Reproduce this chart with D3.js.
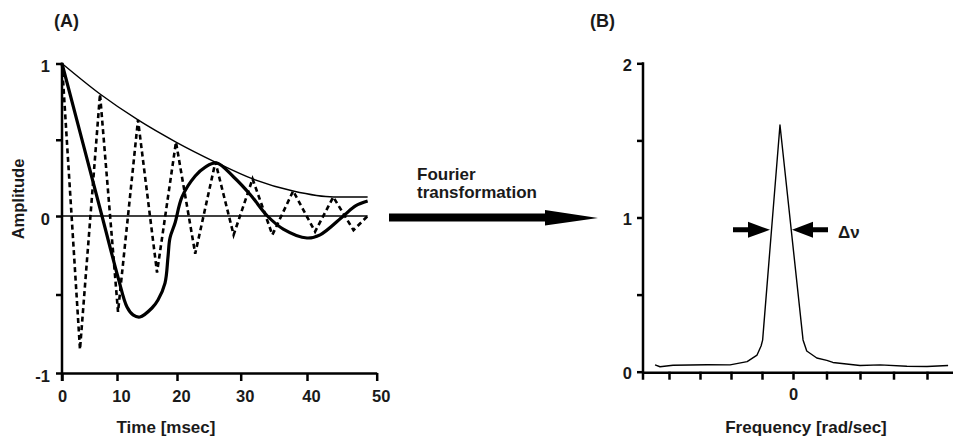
<!DOCTYPE html>
<html><head><meta charset="utf-8">
<script src="https://cdn.jsdelivr.net/npm/d3@7"></script>
<style>
html,body{margin:0;padding:0;background:#fff;}
svg{display:block;}
text{font-family:"Liberation Sans",Arial,sans-serif;font-weight:bold;fill:#1a1a1a;}
</style></head><body>
<svg id="chart" width="953" height="436"></svg>
<script>
// ---- Panel A data ----
const timeTicks = [0, 10, 20, 30, 40, 50];
const ampTicks = [-1, -0.5, 0, 0.5, 1];
const envT = [0, 6.91, 13.5, 19.83, 26.0, 31.8, 37.9, 43.8, 48.7];
const envV = [1.0, 0.80, 0.63, 0.485, 0.354, 0.243, 0.164, 0.125, 0.125];
const oscT = [0, 3.27, 6.91, 10.17, 13.5, 16.67, 19.83, 22.86, 26.03, 28.89, 31.79, 34.78, 37.91, 41.16, 43.77, 46.67, 48.7];
const oscV = [1.0, -0.85, 0.80, -0.61, 0.63, -0.36, 0.485, -0.24, 0.354, -0.12, 0.243, -0.12, 0.164, -0.10, 0.125, -0.09, 0.0];
const sigT = [0, 7.27, 10.17, 11.67, 12.67, 13.83, 15.83, 16.83, 18.0, 18.5, 18.83, 19.67, 20.79, 22.86, 24.44, 26.19, 28.89, 31.49, 34.03, 36.42, 40.0, 41.88, 45.22, 46.96, 48.7];
const sigV = [1.0, 0.0, -0.39, -0.58, -0.63, -0.643, -0.586, -0.535, -0.427, -0.26, -0.14, -0.045, 0.125, 0.262, 0.321, 0.348, 0.256, 0.138, 0.0, -0.083, -0.14, -0.12, 0.0, 0.066, 0.098];
const zeroT = [0, 48.7];
const zeroV = [0, 0];

// ---- Panel B data ----
const freqTicks = [-4, -3, -2, -1, 0, 1, 2, 3, 4];
const specTicks = [0, 0.5, 1, 1.5, 2];
const specF = [-4.45, -4.29, -3.87, -2.77, -2.03, -1.48, -1.16, -1.03, -0.98, -0.42, 0.30, 0.41, 0.71, 1.01, 1.19, 2.0, 2.6, 3.4, 4.0, 4.63];
const specV = [0.044, 0.032, 0.042, 0.045, 0.044, 0.065, 0.108, 0.167, 0.205, 1.60, 0.206, 0.134, 0.089, 0.073, 0.060, 0.040, 0.044, 0.035, 0.034, 0.040];
const halfLevel = 0.92;

const svg = d3.select("#chart");
svg.append("rect").attr("width", 953).attr("height", 436).attr("fill", "#fff");

// ===== Panel A =====
const xA = d3.scaleLinear().domain(timeTicks).range([62, 117, 177, 240.7, 307, 376.7]);
const yA = d3.scaleLinear().domain([-1, 0, 1]).range([373, 216, 63.5]);

const gYA = svg.append("g").attr("transform", `translate(${xA(0)},0)`)
  .call(d3.axisLeft(yA).tickValues(ampTicks).tickSize(6).tickSizeOuter(0).tickPadding(6)
    .tickFormat(d => Number.isInteger(d) ? String(d) : ""));
gYA.select(".domain").remove();
gYA.selectAll(".tick line").attr("stroke", "#000").attr("stroke-width", 2.5);
gYA.selectAll(".tick text").attr("font-size", 16.5).attr("y", 3);

svg.append("line").attr("x1", xA(0)).attr("x2", xA(0)).attr("y1", yA(1) - 1).attr("y2", yA(-1) + 8)
  .attr("stroke", "#000").attr("stroke-width", 2.5);

const gXA = svg.append("g").attr("transform", `translate(0,${yA(-1)})`)
  .call(d3.axisBottom(xA).tickValues(timeTicks).tickSize(8).tickSizeOuter(0).tickPadding(9));
gXA.select(".domain").attr("stroke", "#000").attr("stroke-width", 2.5);
gXA.selectAll(".tick line").attr("stroke", "#000").attr("stroke-width", 2.5);
gXA.selectAll(".tick text").attr("font-size", 16.5).attr("dx", d => d === 0 ? 0 : 4);

const lineA = d3.line().x(d => xA(d[0])).y(d => yA(d[1]));

svg.append("path").datum(d3.zip(zeroT, zeroV)).attr("d", lineA)
  .attr("fill", "none").attr("stroke", "#000").attr("stroke-width", 1.3);
svg.append("path").datum(d3.zip(envT, envV)).attr("d", lineA.curve(d3.curveMonotoneX))
  .attr("fill", "none").attr("stroke", "#000").attr("stroke-width", 1.4);
svg.append("path").datum(d3.zip(oscT, oscV)).attr("d", lineA.curve(d3.curveLinear))
  .attr("fill", "none").attr("stroke", "#000").attr("stroke-width", 2.6).attr("stroke-dasharray", "5,3.5");
svg.append("path").datum(d3.zip(sigT, sigV)).attr("d", lineA.curve(d3.curveCatmullRom.alpha(0.5)))
  .attr("fill", "none").attr("stroke", "#000").attr("stroke-width", 3.2).attr("stroke-linejoin", "round");

svg.append("text").attr("x", 54).attr("y", 27).attr("font-size", 18).text("(A)");
svg.append("text").attr("transform", "translate(24,199) rotate(-90)").attr("text-anchor", "middle")
  .attr("font-size", 16.5).text("Amplitude");
svg.append("text").attr("x", 166).attr("y", 433).attr("text-anchor", "middle").attr("font-size", 17).text("Time [msec]");

// ===== Fourier arrow =====
svg.append("path").attr("d", "M389,213.5H545V210L598,218L545,225.5V221.5H389Z").attr("fill", "#000");
svg.append("text").attr("x", 417).attr("y", 180).attr("font-size", 17).text("Fourier");
svg.append("text").attr("x", 417).attr("y", 198).attr("font-size", 17).text("transformation");

// ===== Panel B =====
const xB = d3.scaleLinear().domain([-4, 0, 4]).range([669, 793, 927]);
const yB = d3.scaleLinear().domain([0, 2]).range([371.7, 63.3]);
const axX = 643;

const gYB = svg.append("g").attr("transform", `translate(${axX},0)`)
  .call(d3.axisLeft(yB).tickValues(specTicks).tickSize(6).tickSizeOuter(0).tickPadding(5)
    .tickFormat(d => Number.isInteger(d) ? String(d) : ""));
gYB.select(".domain").remove();
gYB.selectAll(".tick line").attr("stroke", "#000").attr("stroke-width", 2.5);
gYB.selectAll(".tick text").attr("font-size", 16.5).attr("y", 2);
svg.append("line").attr("x1", axX).attr("x2", axX).attr("y1", yB(2) - 1).attr("y2", yB(0) + 8)
  .attr("stroke", "#000").attr("stroke-width", 2.5);

const gXB = svg.append("g").attr("transform", `translate(0,${yB(0)})`)
  .call(d3.axisBottom(xB).tickValues(freqTicks).tickSize(8).tickSizeOuter(0).tickPadding(9)
    .tickFormat(d => d === 0 ? "0" : ""));
gXB.select(".domain").remove();
gXB.selectAll(".tick line").attr("stroke", "#000").attr("stroke-width", 2.5);
gXB.selectAll(".tick text").attr("font-size", 16.5);
svg.append("line").attr("x1", axX).attr("x2", 953).attr("y1", yB(0) + 1).attr("y2", yB(0) + 1)
  .attr("stroke", "#000").attr("stroke-width", 2.5);

const lineB = d3.line().x(d => xB(d[0])).y(d => yB(d[1]));
svg.append("path").datum(d3.zip(specF, specV)).attr("d", lineB)
  .attr("fill", "none").attr("stroke", "#000").attr("stroke-width", 1.4).attr("stroke-linejoin", "round");

// half-width arrows
const ay = yB(halfLevel);
const lt = 770, rt = 792;
svg.append("path").attr("d", `M${lt - 37},${ay - 2.5}H${lt - 22}V${ay - 8}L${lt},${ay}L${lt - 22},${ay + 8}V${ay + 2.5}H${lt - 37}Z`).attr("fill", "#000");
svg.append("path").attr("d", `M${rt + 36},${ay - 2.5}H${rt + 21}V${ay - 8}L${rt},${ay}L${rt + 21},${ay + 8}V${ay + 2.5}H${rt + 36}Z`).attr("fill", "#000");
svg.append("text").attr("x", 838).attr("y", 238).attr("font-size", 17).text("Δν");

svg.append("text").attr("x", 590).attr("y", 27).attr("font-size", 18).text("(B)");
svg.append("text").attr("x", 806).attr("y", 433).attr("text-anchor", "middle").attr("font-size", 17).text("Frequency [rad/sec]");
</script>
</body></html>
